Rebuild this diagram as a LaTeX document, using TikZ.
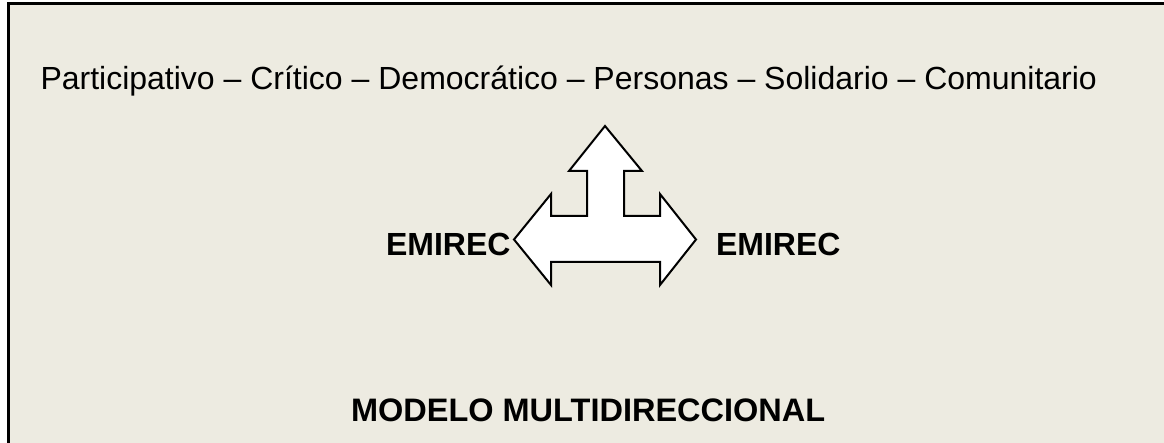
\documentclass[tikz,border=0pt]{standalone}
\usepackage{fontspec}
\setmainfont{Liberation Sans}
\definecolor{bgpaper}{HTML}{EDEBE1}
\begin{document}
\begin{tikzpicture}[x=1pt,y=-1pt,
  txt/.style={inner sep=0pt,outer sep=0pt,anchor=base west,font=\fontsize{32}{36}\selectfont},
  bold/.style={txt,font=\fontsize{32}{36}\selectfont\bfseries},
  arrowshape/.style={draw=black,fill=white,line width=2pt,line join=miter}]
\useasboundingbox (0,0) rectangle (1164,443);
\fill[bgpaper] (8,4) rectangle (1164,443);
\draw[line width=3pt] (8,443) -- (8,4) -- (1164,4);
\node[txt] (top) at (40.5,90) {Participativo – Crítico – Democrático – Personas – Solidario – Comunitario};
\draw[arrowshape] (605,126) -- (642,171) -- (624,171) -- (624,216) -- (660,216) -- (660,194) -- (696,239.5) -- (660,285) -- (660,262) -- (551,262) -- (551,285) -- (514,239.5) -- (551,194) -- (551,216) -- (587,216) -- (587,171) -- (569,171) -- cycle;
\node[bold] (emL) at (386,256) {EMIREC};
\node[bold] (emR) at (716,256) {EMIREC};
\node[bold,font=\fontsize{32.5}{36}\selectfont\bfseries] (modelo) at (351,421) {MODELO MULTIDIRECCIONAL};
\end{tikzpicture}
\end{document}
